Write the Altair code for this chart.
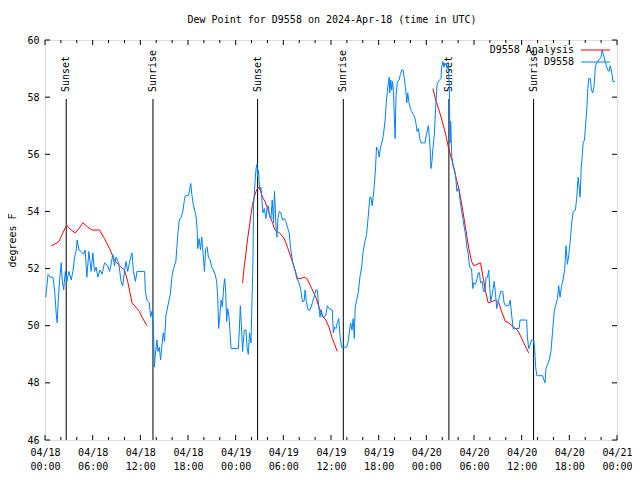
import json
import altair as alt
import pandas as pd

# ---------------- data ----------------
# Observed dew point (hours since 2024-04-18 00:00 UTC, degrees F)
blue_hours = [
    0.10, 0.38, 0.63, 1.00, 1.22, 1.42, 1.54, 1.67, 1.84, 2.04, 2.17, 2.35, 2.55, 2.76, 3.01, 3.30,
    3.51, 3.73, 3.93, 4.05, 4.27, 4.55, 4.85, 5.06, 5.27, 5.52, 5.81, 6.02, 6.23, 6.44, 6.65, 6.94,
    7.19, 7.49, 7.90, 8.12, 8.32, 8.53, 8.74, 8.94, 9.28, 9.57, 9.78, 10.00, 10.20, 10.41, 10.70, 10.95,
    11.13, 11.38, 11.58, 12.54, 12.63, 12.83, 13.13, 13.30, 13.46, 13.64, 13.76, 13.89, 14.09, 14.21,
    14.39, 14.55, 14.71, 14.89, 15.05, 15.22, 15.47, 15.77, 15.97, 16.18, 16.47, 16.72, 16.90, 17.15,
    17.35, 17.52, 17.65, 18.06, 18.19, 18.35, 18.48, 18.69, 18.98, 19.15, 19.23, 19.41, 19.57, 19.73,
    19.91, 20.07, 20.23, 20.41, 20.57, 20.79, 20.99, 21.20, 21.41, 21.61, 21.74, 21.86, 21.99, 22.17,
    22.33, 22.49, 22.62, 22.74, 22.87, 22.99, 23.17, 23.33, 23.42, 24.34, 24.46, 24.59, 24.75, 24.87,
    25.09, 25.30, 25.43, 25.59, 25.75, 25.93, 26.05, 26.18, 26.25, 26.43, 26.56, 26.68, 26.76, 26.88,
    27.01, 27.18, 27.31, 27.43, 27.60, 27.81, 27.94, 28.10, 28.26, 28.44, 28.60, 28.76, 28.89, 29.07,
    29.19, 29.32, 29.48, 29.69, 29.89, 30.11, 30.32, 30.52, 30.73, 30.95, 31.15, 31.36, 31.52, 31.70,
    31.99, 32.20, 32.40, 32.61, 32.74, 32.90, 33.12, 33.37, 33.66, 33.87, 34.08, 34.28, 34.46, 34.62,
    34.78, 34.96, 35.12, 35.34, 35.54, 35.75, 36.16, 36.29, 36.47, 36.63, 36.79, 36.97, 37.04, 37.17,
    37.34, 37.97, 38.17, 38.30, 38.47, 38.64, 38.80, 38.93, 39.05, 39.23, 39.43, 39.64, 39.85, 40.05,
    40.27, 40.48, 40.68, 40.89, 41.02, 41.18, 41.31, 41.48, 41.61, 41.73, 41.94, 42.06, 42.24, 42.49,
    42.65, 42.81, 42.99, 43.15, 43.32, 43.40, 43.53, 43.65, 43.74, 43.87, 43.99, 44.07, 44.19, 44.37,
    44.57, 44.74, 44.91, 45.07, 45.25, 45.41, 45.54, 45.66, 45.82, 46.00, 46.16, 46.33, 46.54, 46.66,
    46.83, 47.00, 47.17, 47.33, 47.83, 48.01, 48.14, 48.26, 48.38, 48.50, 48.58, 48.71, 48.83, 49.01,
    49.17, 49.34, 49.51, 49.67, 49.84, 49.93, 50.09, 50.22, 50.34, 50.52, 50.64, 50.77, 50.90, 50.98,
    51.07, 51.19, 51.35, 51.52, 51.68, 51.85, 51.97, 52.10, 52.27, 52.44, 52.60, 52.77, 52.94, 53.10,
    53.28, 53.44, 53.69, 53.85, 53.98, 54.19, 54.40, 54.53, 54.69, 54.82, 55.03, 55.19, 55.36, 55.53,
    55.70, 55.86, 55.99, 56.11, 56.29, 56.41, 56.54, 56.70, 56.86, 57.04, 57.20, 57.37, 57.62, 57.79,
    57.95, 58.37, 58.55, 58.75, 58.93, 59.68, 59.80, 60.63, 60.72, 60.89, 61.05, 61.22, 61.51, 61.63,
    61.76, 61.91, 62.64, 62.81, 62.93, 63.07, 63.26, 63.47, 63.69, 63.89, 64.10, 64.31, 64.51, 64.66,
    64.83, 65.00, 65.20, 65.42, 65.58, 65.76, 65.92, 66.11, 66.30, 66.49, 66.77, 66.92, 67.11, 67.24,
    67.36, 67.49, 67.61, 67.74, 67.90, 68.03, 68.20, 68.33, 68.45, 68.65, 68.78, 68.95, 69.12, 69.28,
    69.58, 70.00, 70.12, 70.29, 70.50, 70.66, 70.84, 71.00, 71.15, 71.34, 71.50, 71.75,
]
blue_dewpt = [
    51.0, 51.8, 51.7, 51.7, 51.2, 50.4, 50.1, 50.9, 51.6, 52.2, 51.6, 51.25, 51.9, 51.55, 51.9, 51.6,
    51.9, 52.4, 52.65, 53.0, 52.65, 52.6, 52.5, 52.65, 51.7, 52.6, 51.9, 52.55, 51.9, 52.05, 51.7, 51.95,
    51.8, 52.2, 52.1, 51.9, 52.15, 52.5, 52.1, 52.4, 52.2, 51.55, 51.4, 51.9, 52.25, 51.9, 52.3, 52.55,
    51.9, 51.55, 51.9, 51.9, 51.2, 50.9, 50.8, 50.3, 50.5, 50.0, 48.55, 49.0, 49.5, 49.1,
    49.25, 48.8, 49.3, 49.75, 49.45, 50.35, 50.7, 51.1, 51.7, 52.0, 52.25, 53.2, 53.7, 53.8,
    54.0, 54.35, 54.55, 54.55, 54.75, 54.98, 54.6, 54.2, 53.9, 53.4, 52.7, 53.05, 52.65, 53.1,
    52.5, 51.9, 52.7, 52.75, 52.4, 52.3, 52.05, 51.95, 51.8, 51.55, 51.0, 49.9, 50.3, 50.9,
    50.65, 51.35, 51.65, 51.2, 50.15, 50.6, 50.3, 49.6, 49.2, 49.2, 49.85, 50.7, 49.85, 49.1,
    49.85, 49.85, 49.25, 49.0, 49.75, 49.4, 50.8, 52.3, 54.2, 55.0, 55.5, 55.65, 55.2, 55.45,
    54.75, 54.85, 54.4, 53.95, 54.1, 53.75, 54.1, 54.2, 53.85, 53.75, 54.4, 53.6, 54.7, 53.5,
    53.1, 53.75, 54.0, 53.95, 53.7, 53.75, 53.65, 53.45, 53.25, 52.65, 52.25, 52.05, 51.9, 51.65,
    51.5, 51.25, 50.85, 50.85, 51.25, 50.85, 50.55, 50.55, 50.8, 51.0, 51.25, 51.25, 50.65, 50.3,
    50.55, 50.3, 50.3, 50.35, 50.7, 50.6, 50.55, 49.75, 49.95, 49.9, 50.1, 50.25, 50.0, 49.55,
    49.25, 49.25, 49.45, 49.75, 50.1, 49.85, 50.25, 49.55, 50.65, 50.9, 51.15, 51.7, 52.05, 52.6,
    52.95, 53.2, 53.8, 54.5, 54.5, 54.2, 54.5, 55.0, 55.55, 56.25, 56.15, 55.9, 56.25, 56.5,
    56.8, 57.2, 57.9, 58.35, 58.7, 58.15, 58.6, 58.25, 58.55, 58.2, 57.1, 56.55, 58.1, 58.55,
    58.6, 58.8, 58.95, 58.95, 58.6, 58.25, 57.8, 58.15, 57.8, 57.6, 57.5, 57.4, 57.3, 57.15,
    56.8, 56.9, 56.55, 56.4, 56.4, 56.7, 56.85, 57.0, 56.6, 56.1, 55.5, 55.75, 56.2, 56.7,
    57.6, 58.4, 58.55, 58.6, 58.65, 59.05, 59.25, 59.05, 59.2, 59.1, 59.0, 59.1, 58.3, 56.4,
    57.15, 55.95, 55.6, 55.5, 55.25, 54.7, 54.8, 54.75, 54.35, 54.0, 53.75, 53.45, 53.2, 52.75,
    52.5, 52.05, 52.0, 51.3, 51.5, 51.45, 51.65, 51.85, 51.85, 51.5, 51.55, 51.2, 51.2, 51.7,
    51.7, 51.95, 51.3, 50.85, 51.1, 51.3, 51.55, 51.15, 50.6, 50.85, 51.0, 51.2, 51.2, 50.8,
    50.7, 50.7, 50.9, 50.35, 49.9, 49.9, 50.2, 50.2, 49.6, 49.2, 49.3, 49.5, 49.5, 49.2,
    48.55, 48.25, 48.25, 48.1, 48.0, 48.5, 48.65, 48.8, 49.1, 49.8, 50.5, 50.75, 50.95, 51.4,
    51.0, 51.35, 51.6, 52.0, 52.8, 52.15, 52.45, 52.95, 53.6, 54.0, 54.05, 54.45, 55.2, 54.85,
    54.5, 55.5, 55.9, 56.4, 56.5, 56.95, 57.6, 58.3, 58.65, 58.65, 58.25, 58.15, 58.4, 59.1,
    59.25, 59.4, 59.65, 59.5, 59.25, 59.1, 58.95, 58.9, 59.1, 58.85, 58.55, 58.55,
]

# Analysis runs (three separate segments)
ana1_hours = [0.79, 1.22, 1.76, 2.17, 2.60, 2.76, 3.30, 3.80, 4.27, 4.77, 5.39, 5.93, 6.86, 7.49,
              8.12, 8.74, 9.37, 10.00, 10.41, 10.70, 10.95, 11.45, 11.88, 12.21, 12.83]
ana1_dewpt = [52.8, 52.85, 52.95, 53.2, 53.45, 53.5, 53.35, 53.25, 53.4, 53.6, 53.45, 53.35, 53.35, 53.05,
              52.7, 52.3, 52.1, 51.95, 51.55, 51.15, 50.8, 50.65, 50.5, 50.3, 50.0]
ana2_hours = [24.87, 25.09, 25.30, 25.50, 25.72, 25.93, 26.13, 26.34, 26.56, 26.84, 27.10, 27.38, 27.69,
              28.01, 28.35, 28.64, 28.94, 29.27, 29.69, 30.11, 30.52, 30.95, 31.36, 31.78, 32.20, 32.61,
              32.95, 33.24, 33.66, 34.08, 34.50, 34.91, 35.34, 35.75, 36.16, 36.38, 36.79]
ana2_dewpt = [51.5, 52.1, 52.55, 53.05, 53.45, 53.9, 54.25, 54.5, 54.7, 54.85, 54.75, 54.5, 54.35,
              54.1, 53.8, 53.6, 53.35, 53.3, 53.2, 53.05, 52.75, 52.4, 52.05, 51.65, 51.65, 51.7,
              51.65, 51.5, 51.25, 51.0, 50.65, 50.35, 50.2, 49.95, 49.55, 49.4, 49.1]
ana3_hours = [48.83, 49.17, 49.59, 50.01, 50.43, 50.85, 51.27, 51.68, 52.10, 52.52, 52.94, 53.35, 53.69,
              53.98, 54.40, 54.82, 55.11, 55.45, 55.79, 56.29, 56.70, 57.12, 57.54, 57.95, 58.37, 58.80,
              59.21, 59.58, 60.01, 60.43, 60.88]
ana3_dewpt = [58.3, 57.9, 57.55, 57.15, 56.7, 56.15, 55.75, 55.25, 54.8, 54.15, 53.4, 52.7, 52.25,
              52.1, 52.15, 52.2, 51.75, 51.2, 50.8, 50.85, 50.9, 50.8, 50.45, 50.15, 50.1, 50.0,
              49.9, 49.8, 49.55, 49.3, 49.05]

# Sunrise / sunset markers
sun_labels = ["Sunset", "Sunrise", "Sunset", "Sunrise", "Sunset", "Sunrise"]
sun_hours = [2.67, 13.59, 26.76, 37.55, 50.84, 61.50]

# Axis ticks / labels
x_tick_hours = [0, 6, 12, 18, 24, 30, 36, 42, 48, 54, 60, 66, 72]
x_tick_dates = ["04/18", "04/18", "04/18", "04/18", "04/19", "04/19", "04/19", "04/19",
                "04/20", "04/20", "04/20", "04/20", "04/21"]
x_tick_times = ["00:00", "06:00", "12:00", "18:00", "00:00", "06:00", "12:00", "18:00",
                "00:00", "06:00", "12:00", "18:00", "00:00"]
y_ticks = [46, 48, 50, 52, 54, 56, 58, 60]

series_names = ["D9558 Analysis", "D9558"]
series_colors = ["#ff0000", "#0080ff"]
title_text = "Dew Point for D9558 on 2024-Apr-18 (time in UTC)"

# ---------------- build ----------------
assert len(blue_hours) == len(blue_dewpt)
blue = pd.DataFrame({"h": blue_hours, "v": blue_dewpt})
red = pd.DataFrame({
    "h": ana1_hours + ana2_hours + ana3_hours,
    "v": ana1_dewpt + ana2_dewpt + ana3_dewpt,
    "seg": [1] * len(ana1_hours) + [2] * len(ana2_hours) + [3] * len(ana3_hours),
})
sun = pd.DataFrame({"h": sun_hours, "label": sun_labels})
minor_x = pd.DataFrame({"h": [h for h in range(0, 73, 2) if h % 6 != 0]})
major_x = pd.DataFrame({"h": x_tick_hours})
ticks_y = pd.DataFrame({"v": y_ticks})
one = pd.DataFrame({"k": [0]})

FONT = "DejaVu Sans Mono"
W, H = 572, 400
LEFT, TOP = 37, 32          # plot origin on the page = (8 + LEFT, 8 + TOP) = (45, 40)

label_expr = ("[" + json.dumps(x_tick_dates) + "[round(datum.value/6)], "
              + json.dumps(x_tick_times) + "[round(datum.value/6)]]")

xscale = alt.Scale(domain=[0, 72], nice=False, zero=False)
yscale = alt.Scale(domain=[46, 60], nice=False, zero=False)
xaxis = alt.Axis(values=x_tick_hours, labelExpr=label_expr, grid=False, ticks=False, domain=False,
                 labelFont=FONT, labelFontSize=10, labelColor="black", labelPadding=7,
                 labelLineHeight=14, labelFlush=False, labelOverlap=False, title=None)
yaxis = alt.Axis(values=y_ticks, grid=False, ticks=False, domain=False, labelFont=FONT,
                 labelFontSize=10, labelColor="black", labelPadding=6, title="degrees F",
                 titleFont=FONT, titleFontSize=10, titleFontWeight="normal", titleColor="black",
                 titlePadding=9)
X = alt.X("h:Q", scale=xscale, axis=xaxis)
Y = alt.Y("v:Q", scale=yscale, axis=yaxis)

blue_line = alt.Chart(blue).mark_line(color=series_colors[1], strokeWidth=1).encode(x=X, y=Y)
red_line = alt.Chart(red).mark_line(color=series_colors[0], strokeWidth=1).encode(
    x=X, y=Y, detail="seg:N")

sun_rules = alt.Chart(sun).mark_rule(color="black", strokeWidth=1).encode(
    x=X, y=alt.value(H), y2=alt.value(59))
sun_text = alt.Chart(sun).mark_text(angle=270, align="left", baseline="middle", font=FONT,
                                    fontSize=10, color="black").encode(
    x=X, y=alt.value(52), text="label:N")

tick_layers = [
    alt.Chart(major_x).mark_rule(color="black").encode(x=X, y=alt.value(H), y2=alt.value(H - 5)),
    alt.Chart(minor_x).mark_rule(color="black").encode(x=X, y=alt.value(H), y2=alt.value(H - 3)),
    alt.Chart(major_x).mark_rule(color="black").encode(x=X, y=alt.value(0), y2=alt.value(5)),
    alt.Chart(minor_x).mark_rule(color="black").encode(x=X, y=alt.value(0), y2=alt.value(3)),
    alt.Chart(ticks_y).mark_rule(color="black").encode(y=Y, x=alt.value(0), x2=alt.value(5)),
    alt.Chart(ticks_y).mark_rule(color="black").encode(y=Y, x=alt.value(W), x2=alt.value(W - 5)),
]

legend_layers = []
for i, (name, col) in enumerate(zip(series_names, series_colors)):
    ly = 10 + 12 * i
    legend_layers.append(
        alt.Chart(one).mark_text(align="right", baseline="middle", font=FONT, fontSize=10,
                                 color="black").encode(
            x=alt.value(529), y=alt.value(ly), text=alt.value(name)))
    legend_layers.append(
        alt.Chart(one).mark_rule(color=col, strokeWidth=1).encode(
            x=alt.value(536), x2=alt.value(565), y=alt.value(ly)))

title_layer = alt.Chart(one).mark_text(align="center", baseline="middle", font=FONT, fontSize=10,
                                       color="black").encode(
    x=alt.value(287), y=alt.value(-20), text=alt.value(title_text))

chart = alt.layer(
    *tick_layers, sun_rules, sun_text, red_line, blue_line, *legend_layers, title_layer
).properties(
    width=W, height=H,
    autosize=alt.AutoSizeParams(type="none"),
    padding={"left": LEFT, "top": TOP, "right": 15, "bottom": 32},
).configure_view(stroke="black", strokeWidth=1).configure(background="white")

chart.save("out.html", embed_options={"renderer": "svg", "actions": False})
